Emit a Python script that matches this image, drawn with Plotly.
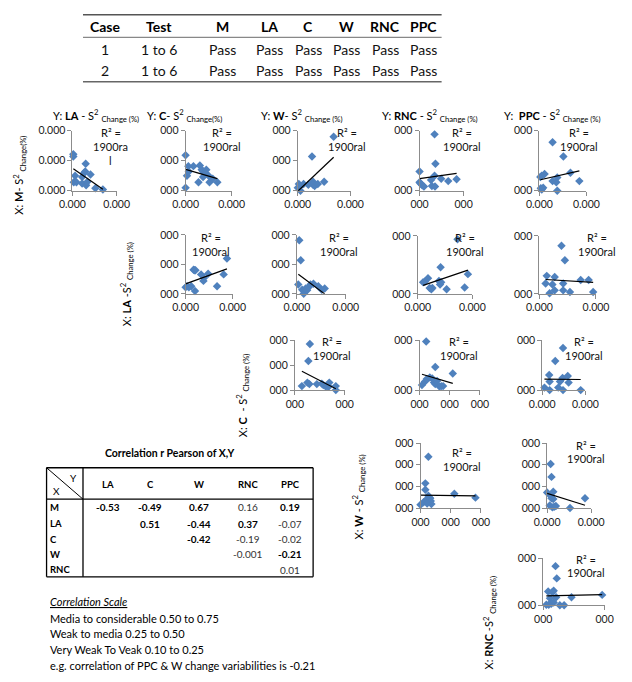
import numpy as np
import plotly.graph_objects as go

W, H = 632, 682
FONT = "Lato"
BLUE = "#4F81BD"

# ---------------- data ----------------
# top table
table_header = ["Case", "Test", "M", "LA", "C", "W", "RNC", "PPC"]
table_row1 = ["1", "1 to 6", "Pass", "Pass", "Pass", "Pass", "Pass", "Pass"]
table_row2 = ["2", "1 to 6", "Pass", "Pass", "Pass", "Pass", "Pass", "Pass"]

# correlation table
corr_cols = ["LA", "C", "W", "RNC", "PPC"]
corr_rows = ["M", "LA", "C", "W", "RNC"]
corr_M = ["-0.53", "-0.49", "0.67", "0.16", "0.19"]
corr_LA = ["", "0.51", "-0.44", "0.37", "-0.07"]
corr_C = ["", "", "-0.42", "-0.19", "-0.02"]
corr_W = ["", "", "", "-0.001", "-0.21"]
corr_RNC = ["", "", "", "", "0.01"]
bold_M = [1, 1, 1, 0, 1]
bold_LA = [0, 1, 1, 1, 0]
bold_C = [0, 0, 1, 0, 0]
bold_W = [0, 0, 0, 0, 1]
bold_RNC = [0, 0, 0, 0, 0]

scale_lines = ["Media to considerable 0.50 to 0.75",
               "Weak to media 0.25 to 0.50",
               "Very Weak To Veak 0.10 to 0.25",
               "e.g. correlation of PPC & W change variabilities is -0.21"]

r2_text = "1900ral"

# scatter data (relative units)
M_LA_x = [0.02, 0.02, 0.06, 0.03, 0.09, 0.22, 0.22, 0.30, 0.27, 0.31, 0.41, 0.34, 0.52, 0.69, 0.29]
M_LA_y = [0.61, 0.57, 0.25, 0.14, 0.14, 0.23, 0.12, 0.45, 0.30, 0.09, 0.27, 0.15, 0.04, 0.02, 0.32]
M_C_x = [0.00, 0.03, 0.06, 0.07, 0.00, 0.17, 0.31, 0.35, 0.38, 0.42, 0.45, 0.28, 0.38, 0.50, 0.59, 0.52, 0.69]
M_C_y = [0.59, 0.25, 0.41, 0.32, 0.05, 0.41, 0.42, 0.35, 0.32, 0.30, 0.35, 0.14, 0.23, 0.25, 0.20, 0.14, 0.14]
M_W_x = [0.00, 0.02, 0.05, 0.11, 0.20, 0.27, 0.29, 0.29, 0.32, 0.38, 0.50, 0.68, 0.04]
M_W_y = [0.05, 0.11, 0.00, 0.11, 0.10, 0.57, 0.15, 0.10, 0.08, 0.11, 0.15, 0.90, 0.07]
M_RNC_x = [0.34, 0.36, 0.00, 0.02, 0.06, 0.00, 0.10, 0.26, 0.34, 0.28, 0.35, 0.49, 0.65, 0.84]
M_RNC_y = [0.94, 0.45, 0.32, 0.12, 0.09, 0.14, 0.07, 0.18, 0.25, 0.08, 0.07, 0.20, 0.16, 0.19]
M_PPC_x = [0.28, 0.51, 0.02, 0.05, 0.11, 0.03, 0.05, 0.08, 0.28, 0.36, 0.38, 0.38, 0.66, 0.85]
M_PPC_y = [0.81, 0.57, 0.23, 0.25, 0.28, 0.04, 0.02, 0.05, 0.16, 0.14, 0.22, 0.00, 0.30, 0.16]
LA_C_x = [0.17, 0.19, 0.21, 0.03, 0.07, 0.12, 0.20, 0.33, 0.39, 0.38, 0.48, 0.67, 0.81, 0.88, 0.00]
LA_C_y = [0.41, 0.40, 0.40, 0.13, 0.11, 0.13, 0.05, 0.33, 0.27, 0.22, 0.34, 0.13, 0.33, 0.60, 0.11]
LA_W_x = [0.05, 0.08, 0.03, 0.11, 0.14, 0.18, 0.21, 0.24, 0.28, 0.34, 0.44, 0.51, 0.57]
LA_W_y = [0.91, 0.57, 0.16, 0.07, 0.00, 0.09, 0.06, 0.11, 0.16, 0.17, 0.13, 0.07, 0.09]
LA_RNC_x = [0.73, 0.42, 0.92, 0.10, 0.13, 0.19, 0.25, 0.27, 0.22, 0.39, 0.41, 0.43, 0.53, 0.86]
LA_RNC_y = [0.94, 0.46, 0.34, 0.20, 0.21, 0.27, 0.08, 0.10, 0.10, 0.22, 0.16, 0.20, 0.08, 0.11]
LA_PPC_x = [0.39, 0.45, 0.13, 0.27, 0.11, 0.23, 0.27, 0.18, 0.42, 0.42, 0.54, 0.73, 0.87, 0.95]
LA_PPC_y = [0.83, 0.58, 0.31, 0.29, 0.18, 0.16, 0.06, 0.01, 0.18, 0.06, 0.03, 0.24, 0.24, 0.03]
C_W_x = [0.30, 0.27, 0.14, 0.25, 0.29, 0.44, 0.54, 0.57, 0.62, 0.65, 0.69, 0.68, 0.82, 0.82]
C_W_y = [0.92, 0.58, 0.08, 0.15, 0.12, 0.12, 0.13, 0.10, 0.07, 0.08, 0.15, 0.07, 0.08, 0.00]
C_RNC_x = [0.11, 0.26, 0.55, 0.04, 0.09, 0.12, 0.17, 0.21, 0.24, 0.26, 0.29, 0.33, 0.39, 0.36]
C_RNC_y = [0.97, 0.46, 0.33, 0.10, 0.17, 0.22, 0.25, 0.23, 0.15, 0.12, 0.18, 0.07, 0.08, 0.08]
C_PPC_x = [0.48, 0.30, 0.16, 0.05, 0.17, 0.17, 0.37, 0.41, 0.47, 0.48, 0.59, 0.61, 0.89]
C_PPC_y = [0.84, 0.58, 0.30, 0.05, 0.00, 0.17, 0.05, 0.17, 0.24, 0.00, 0.28, 0.15, 0.00]
W_RNC_x = [0.13, 0.08, 0.08, 0.00, 0.05, 0.08, 0.11, 0.13, 0.15, 0.16, 0.17, 0.18, 0.56, 0.91, 0.11]
W_RNC_y = [0.79, 0.38, 0.28, 0.05, 0.09, 0.11, 0.14, 0.19, 0.16, 0.15, 0.11, 0.06, 0.22, 0.16, 0.07]
W_PPC_x = [0.08, 0.10, 0.00, 0.08, 0.10, 0.14, 0.14, 0.06, 0.12, 0.16, 0.20, 0.52, 0.86]
W_PPC_y = [0.68, 0.48, 0.24, 0.19, 0.15, 0.25, 0.14, 0.04, 0.01, 0.02, 0.03, 0.00, 0.15]
RNC_PPC_x = [0.20, 0.22, 0.08, 0.17, 0.11, 0.21, 0.13, 0.17, 0.09, 0.05, 0.27, 0.34, 0.46, 0.96, 0.15]
RNC_PPC_y = [0.83, 0.57, 0.29, 0.31, 0.15, 0.17, 0.03, 0.06, 0.01, 0.01, 0.00, 0.00, 0.17, 0.22, 0.28]

# ---------------- helpers ----------------
def px(x):
    return x / W

def py(y):
    return 1 - y / H

annotations = []
shapes = []

def text(x, y, t, size=11, color="#000", xanchor="center", yanchor="middle", angle=0, bold=False):
    if bold:
        t = "<b>" + t + "</b>"
    annotations.append(dict(x=px(x), y=py(y), xref="paper", yref="paper", text=t,
                            showarrow=False, xanchor=xanchor, yanchor=yanchor,
                            textangle=angle, font=dict(family=FONT, size=size, color=color)))

def line(x0, y0, x1, y1, color="#000", width=1):
    shapes.append(dict(type="line", xref="paper", yref="paper", x0=px(x0), y0=py(y0),
                       x1=px(x1), y1=py(y1), line=dict(color=color, width=width)))

# ---------------- top table ----------------
tab_x = [96, 152, 218, 268, 308, 348, 388, 428]
line(73, 9, 447, 9, "#555", 1.5)
line(73, 32, 447, 32, "#888", 1.2)
line(73, 77, 447, 77, "#666", 1.5)
for cx, h, a, b in zip(tab_x, table_header, table_row1, table_row2):
    text(cx, 21, h, size=14, bold=True)
    text(cx, 44, a, size=14, color="#111")
    text(cx, 66, b, size=14, color="#111")

# ---------------- scatter panels ----------------
panels = [
    # x data, y data, (x0, x1, ytop, ybot), xticks, xlab, yticks, ylab, r2 center x, r2 y, r2 lines
    (M_LA_x, M_LA_y, (62, 108, 127, 188), [0, 1], "0.000", [0, 0.5, 1], "0.000", 102, 129, ["R² =", "1900ra", "l"]),
    (M_C_x, M_C_y, (180, 228, 127, 188), [0, 1], "0.000", [0, 0.5, 1], "000", 218, 129, ["R² =", r2_text]),
    (M_W_x, M_W_y, (297, 352, 127, 188), [0, 1], "0.000", [0, 0.5, 1], "000", 348, 129, ["R² =", r2_text]),
    (M_RNC_x, M_RNC_y, (424, 470, 127, 188), [0, 1], "000", [0, 1], "000", 468, 129, ["R² =", r2_text]),
    (M_PPC_x, M_PPC_y, (549, 598, 127, 188), [0, 1], "0.000", [0, 1], "000", 590, 129, ["R² =", r2_text]),
    (LA_C_x, LA_C_y, (180, 229, 233, 293), [0, 1], "0.000", [0, 0.5, 1], "000", 207, 236, ["R² =", r2_text]),
    (LA_W_x, LA_W_y, (296, 347, 233, 293), [0, 1], "0.000", [0, 0.5, 1], "000", 340, 236, ["R² =", r2_text]),
    (LA_RNC_x, LA_RNC_y, (422, 479, 234, 293), [0, 1], "0.000", [0, 1], "000", 471, 236, ["R² =", r2_text]),
    (LA_PPC_x, LA_PPC_y, (549, 608, 234, 293), [0, 1], "0.000", [0, 1], "000", 609, 236, ["R² =", r2_text]),
    (C_W_x, C_W_y, (294, 346, 340, 391), [0, 1], "000", [0, 0.5, 1], "000", 333, 342, ["R² =", r2_text]),
    (C_RNC_x, C_RNC_y, (424, 487, 340, 391), [0, 0.5, 1], "000", [0, 1], "000", 465, 342, ["R² =", r2_text]),
    (C_PPC_x, C_PPC_y, (552, 597, 340, 391), [0, 1], "0.000", [0, 1], "000", 595, 342, ["R² =", r2_text]),
    (W_RNC_x, W_RNC_y, (425, 488, 445, 511), [0, 0.5, 1], "000", [0, 1/3, 2/3, 1], "000", 468, 455, ["R² =", r2_text]),
    (W_PPC_x, W_PPC_y, (557, 603, 445, 511), [0, 1], "0.000", [0, 1/3, 2/3, 1], "000", 598, 447, ["R² =", r2_text]),
    (RNC_PPC_x, RNC_PPC_y, (553, 617, 562, 610), [0, 1], "000", [0, 1], "000", 598, 563, ["R² =", r2_text]),
]

fig = go.Figure()
layout_axes = {}
for i, (xs, ys, (x0, x1, yt, yb), xt, xl, yt_, yl, rx, ry, rlines) in enumerate(panels, start=1):
    xa = "x" if i == 1 else f"x{i}"
    ya = "y" if i == 1 else f"y{i}"
    xs_a = np.array(xs)
    ys_a = np.array(ys)
    fig.add_trace(go.Scatter(x=xs_a, y=ys_a, mode="markers", xaxis=xa, yaxis=ya,
                             marker=dict(symbol="diamond", size=6.5, color=BLUE),
                             cliponaxis=False, hoverinfo="skip"))
    k, b = np.polyfit(xs_a, ys_a, 1)
    lx = np.array([xs_a.min(), xs_a.max()])
    fig.add_trace(go.Scatter(x=lx, y=k * lx + b, mode="lines", xaxis=xa, yaxis=ya,
                             line=dict(color="black", width=1.2), cliponaxis=False,
                             hoverinfo="skip"))
    axcommon = dict(range=[0, 1], showgrid=False, zeroline=False, showline=True,
                    linecolor="#8c8c8c", linewidth=1, ticks="outside", ticklen=4,
                    tickcolor="#8c8c8c", tickfont=dict(family=FONT, size=10.5, color="#222"),
                    fixedrange=True)
    key = "" if i == 1 else str(i)
    layout_axes["xaxis" + key] = dict(axcommon, domain=[px(x0), px(x1)], anchor=ya,
                                      tickvals=xt, ticktext=[xl] * len(xt))
    layout_axes["yaxis" + key] = dict(axcommon, domain=[py(yb), py(yt)], anchor=xa,
                                      tickvals=yt_, ticktext=[yl] * len(yt_))
    for j, t in enumerate(rlines):
        text(rx, ry + 14 * j, t, size=11, color="#111")

# column titles
titles = [(40, "Y: <b>LA</b> - S<sup>2</sup> <sub>Change (%)</sub>"),
          (138, "Y: <b>C</b>- S<sup>2</sup> <sub>Change(%)</sub>"),
          (257, "Y: <b>W</b>- S<sup>2</sup> <sub>Change (%)</sub>"),
          (383, "Y: <b>RNC</b> - S<sup>2</sup> <sub>Change (%)</sub>"),
          (510, "Y:  <b>PPC</b> - S<sup>2</sup> <sub>Change (%)</sub>")]
for x, t in titles:
    text(x, 111, t, size=11, xanchor="left")

# row labels (rotated)
rowlabels = [(7, 172, "X: <b>M</b>- S<sup>2</sup> <sub>Change(%)</sub>"),
             (118, 283, "X: <b>LA</b> -S<sup>2</sup> <sub>Change (%)</sub>"),
             (239, 396, "X: <b>C</b>  - S<sup>2</sup> <sub>Change (%)</sub>"),
             (360, 500, "X: <b>W</b> - S<sup>2</sup> <sub>Change (%)</sub>"),
             (497, 628, "X: <b>RNC</b> -S<sup>2</sup> <sub>Change (%)</sub>")]
for x, y, t in rowlabels:
    text(x, y, t, size=11, angle=-90)

# ---------------- correlation table ----------------
text(163, 455, "Correlation r Pearson of X,Y", size=10.5, bold=True)
line(35, 470, 313, 470, "#000", 1.3)
line(35, 581, 313, 581, "#000", 1.3)
line(35, 470, 35, 581, "#000", 1.3)
line(313, 470, 313, 581, "#000", 1.3)
line(35, 502, 313, 502, "#000", 1.3)
line(73, 470, 73, 581, "#000", 1.3)
line(35, 470, 73, 502, "#000", 1)
text(63, 480, "Y", size=10)
text(45, 494, "X", size=10)
col_x = [99, 143, 194, 245, 289]
row_y = [510, 527, 543, 558, 574]
for cx, c in zip(col_x, corr_cols):
    text(cx, 487, c, size=9.5, bold=True)
rows_vals = [corr_M, corr_LA, corr_C, corr_W, corr_RNC]
rows_bold = [bold_M, bold_LA, bold_C, bold_W, bold_RNC]
for ry_, rname, vals, bolds in zip(row_y, corr_rows, rows_vals, rows_bold):
    text(37, ry_, rname, size=9.5, bold=True, xanchor="left")
    for cx, v, bb in zip(col_x, vals, bolds):
        if v:
            text(cx, ry_, v, size=10, bold=bool(bb), color="#000" if bb else "#333")

# correlation scale
text(37, 606, "<i><u>Correlation Scale</u></i>", size=11, xanchor="left")
for j, s in enumerate(scale_lines):
    text(37, 623 + 16 * j, s, size=11, xanchor="left")

fig.update_layout(width=W, height=H, margin=dict(l=0, r=0, t=0, b=0),
                  paper_bgcolor="white", plot_bgcolor="white", showlegend=False,
                  annotations=annotations, shapes=shapes, **layout_axes)
fig.write_html("out.html")
